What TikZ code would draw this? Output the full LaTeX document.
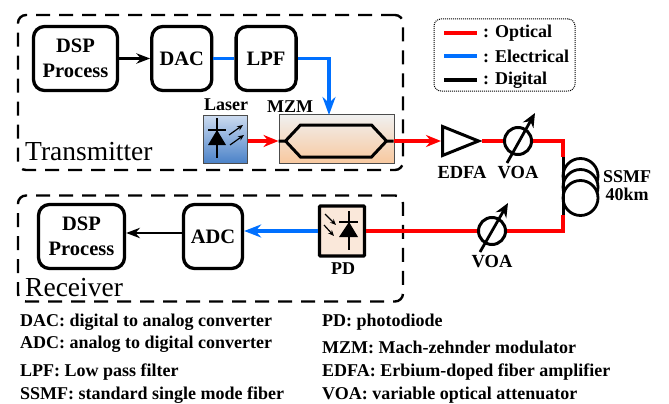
\documentclass[tikz,border=0pt]{standalone}
\usepackage{fontspec}
\setmainfont{Liberation Serif}
\usetikzlibrary{arrows.meta,positioning,shapes.geometric}
\definecolor{opred}{RGB}{255,0,0}
\definecolor{elblue}{RGB}{0,112,255}
\definecolor{pdfill}{RGB}{250,232,218}
\definecolor{mzmtop}{RGB}{240,240,240}
\definecolor{mzmbot}{RGB}{248,200,158}
\definecolor{lastop}{RGB}{205,220,240}
\definecolor{lasbot}{RGB}{75,130,200}
\begin{document}
\begin{tikzpicture}[x=1pt,y=-1pt,node distance=22pt and 32pt,
      b/.style={draw,line width=3.3pt,rounded corners=11pt,align=center,font=\fontsize{20.5}{25}\selectfont\bfseries,minimum height=64pt,inner sep=2pt},
      group/.style={draw,line width=2.4pt,dash pattern=on 14pt off 9pt,rounded corners=8pt,minimum width=385pt},
      lab/.style={font=\fontsize{18.5}{20}\selectfont\bfseries,inner sep=0pt},
      note/.style={font=\fontsize{18}{20}\selectfont\bfseries,inner sep=0pt,anchor=west},
      voa/.style={draw,circle,line width=3pt,minimum size=27pt,inner sep=0pt},
      coil/.style={draw,circle,line width=2.8pt,minimum size=35pt,inner sep=0pt,fill=white},
      optic/.style={opred,line width=3.4pt},
      elec/.style={elblue,line width=3.4pt},
      digi/.style={black,line width=2.4pt},
      >={Stealth[]}]
    \useasboundingbox (0,0) rectangle (669,404);
    % dashed groups
    \node[group,minimum height=155pt] (txbox) at (210.5,92.5) {};
    \node[group,minimum height=106pt] (rxbox) at (210.5,248.5) {};
    \node[anchor=west,inner sep=0pt,font=\fontsize{27.5}{30}\selectfont] (txname) at (25,152) {Transmitter};
    \node[anchor=west,inner sep=0pt,font=\fontsize{27.5}{30}\selectfont] (rxname) at (25,288) {Receiver};
    % transmitter
    \node[b,minimum width=84pt] (dsptx) at (75.5,58.5) {DSP\\Process};
    \node[b,minimum width=60pt,right=31pt of dsptx] (dac) {DAC};
    \node[b,minimum width=60pt,right=21pt of dac] (lpf) {LPF};
    \draw[digi,->] (dsptx)--(dac);
    \node[draw=black!70,line width=1pt,top color=lastop,bottom color=lasbot,minimum width=44pt,minimum height=48pt,inner sep=0pt] (laser) at (225,139) {};
    \node[draw=black!70,line width=1pt,top color=mzmtop,bottom color=mzmbot,minimum width=115pt,minimum height=49pt,inner sep=0pt,right=31pt of laser] (mzm) {};
    \node[lab,font=\fontsize{18}{20}\selectfont\bfseries] (laslab) at (226,105) {Laser};
    \node[lab,font=\fontsize{18}{20}\selectfont\bfseries] (mzmlab) at (290,107) {MZM};
    \coordinate (mzmrf) at (329,115);
    \coordinate (mzmin) at (278.5,141);
    \coordinate (mzmout) at (393.5,141);
    \draw[elec] (dac)--(lpf);
    \draw[elec,-{Stealth[length=18pt,width=13pt]}] (lpf.east) -| (mzmrf);
    \draw[optic,-{Stealth[length=15pt,width=12pt]}] (laser.east |- mzmin)--(mzmin);
    \draw[line width=3pt,line join=miter] (mzmin) -- ++(7,0) -- ++(15,-16) -- ++(71,0) -- ++(15,16) -- (mzmout);
    \draw[line width=3pt,line join=miter] (mzmin) ++(7,0) -- ++(15,16) -- ++(71,0) -- ++(15,-16);
    % laser symbol
    \draw[line width=1.6pt] (217,118)--(217,158);
    \draw[line width=2pt] (208,130)--(226,130);
    \fill (217,130)--(226,145)--(208,145)--cycle;
    \draw[line width=1.2pt,-{Stealth[length=6pt,width=5pt]}] (229,135)--(243,125);
    \draw[line width=1.2pt,-{Stealth[length=6pt,width=5pt]}] (230,145)--(244,135);
    % link
    \node[draw,isosceles triangle,isosceles triangle stretches,line width=3pt,minimum width=29pt,minimum height=36pt,inner sep=0pt,anchor=lower side] (edfa) at (441,141) {};
    \node[voa] (voatop) at (518,141) {};
    \node[lab] (edfalab) at (462,172) {EDFA};
    \node[lab] (voatoplab) at (518,173) {VOA};
    \node[coil] (coila) at (580.5,176) {};
    \node[coil] (coilb) at (580.5,187) {};
    \node[coil] (coilc) at (580.5,198) {};
    \node[lab,align=center,font=\fontsize{18}{18}\selectfont\bfseries] (ssmf) at (627,186) {SSMF\\40km};
    \coordinate (fibtop) at (563,157);
    \coordinate (fibbot) at (563,215);
    \coordinate (corna) at (563,141);
    \coordinate (cornb) at (563,231);
    \node[voa] (voabot) at (492,231) {};
    \node[lab] (voabotlab) at (492,262) {VOA};
    \draw[optic,-{Stealth[length=15pt,width=12pt]}] (mzmout)--(edfa.lower side);
    \draw[optic] (edfa.apex)--(voatop);
    \draw[optic] (voatop) -- (corna) -- (fibtop);
    \draw[line width=3pt] (fibtop)--(fibbot);
    \draw[optic] (fibbot) -- (cornb) -- (voabot);
    \draw[line width=2.8pt,-{Stealth[length=14pt,width=12pt]}] (507,163)--(535,113);
    \draw[line width=2.8pt,-{Stealth[length=14pt,width=12pt]}] (480,252)--(508,203);
    % receiver
    \node[draw,line width=3.3pt,rounded corners=1pt,fill=pdfill,minimum width=45pt,minimum height=50pt,inner sep=0pt] (pd) at (342,231) {};
    \node[lab,font=\fontsize{18}{20}\selectfont\bfseries] (pdlab) at (343,269) {PD};
    \draw[optic] (voabot)--(pd);
    \node[b,minimum width=59pt] (adc) at (213,236.5) {ADC};
    \node[b,minimum width=86pt] (dsprx) at (81.5,236.5) {DSP\\Process};
    \draw[elec,-{Stealth[length=17pt,width=13pt]}] (pd.west)--(adc.east |- pd.west);
    \draw[digi,->] ([yshift=3.5pt]adc.west)--([yshift=3.5pt]dsprx.east);
    % pd symbol
    \draw[line width=1.6pt] (349,211)--(349,250);
    \draw[line width=2pt] (339,222)--(358,222);
    \fill (349,222)--(358,237)--(339,237)--cycle;
    \draw[line width=1.2pt,-{Stealth[length=6pt,width=5pt]}] (325,214)--(336,225);
    \draw[line width=1.2pt,-{Stealth[length=6pt,width=5pt]}] (324,225)--(334,236);
    % legend
    \node[draw,densely dotted,line width=1pt,rounded corners=7pt,minimum width=141pt,minimum height=72pt] (legend) at (504.5,55) {};
    \node[note] (legopt) at (483,33) {: Optical};
    \node[note] (legele) at (483,56) {: Electrical};
    \node[note] (legdig) at (483,80) {: Digital};
    \draw[optic] ([xshift=-39pt]legopt.west)--([xshift=-6pt]legopt.west);
    \draw[elec] ([xshift=-39pt]legele.west)--([xshift=-6pt]legele.west);
    \draw[line width=3.4pt] ([xshift=-39pt]legdig.west)--([xshift=-6pt]legdig.west);
    % abbreviations
    \node[note] (ndac) at (20,322) {DAC: digital to analog converter};
    \node[note] (nadc) at (20,344) {ADC: analog to digital converter};
    \node[note] (nlpf) at (20,372) {LPF: Low pass filter};
    \node[note] (nssmf) at (20,395) {SSMF: standard single mode fiber};
    \node[note] (npd) at (322,322) {PD: photodiode};
    \node[note] (nmzm) at (322,347) {MZM: Mach-zehnder modulator};
    \node[note] (nedfa) at (322,372) {EDFA: Erbium-doped fiber amplifier};
    \node[note] (nvoa) at (322,395) {VOA: variable optical attenuator};
  \end{tikzpicture}
\end{document}
